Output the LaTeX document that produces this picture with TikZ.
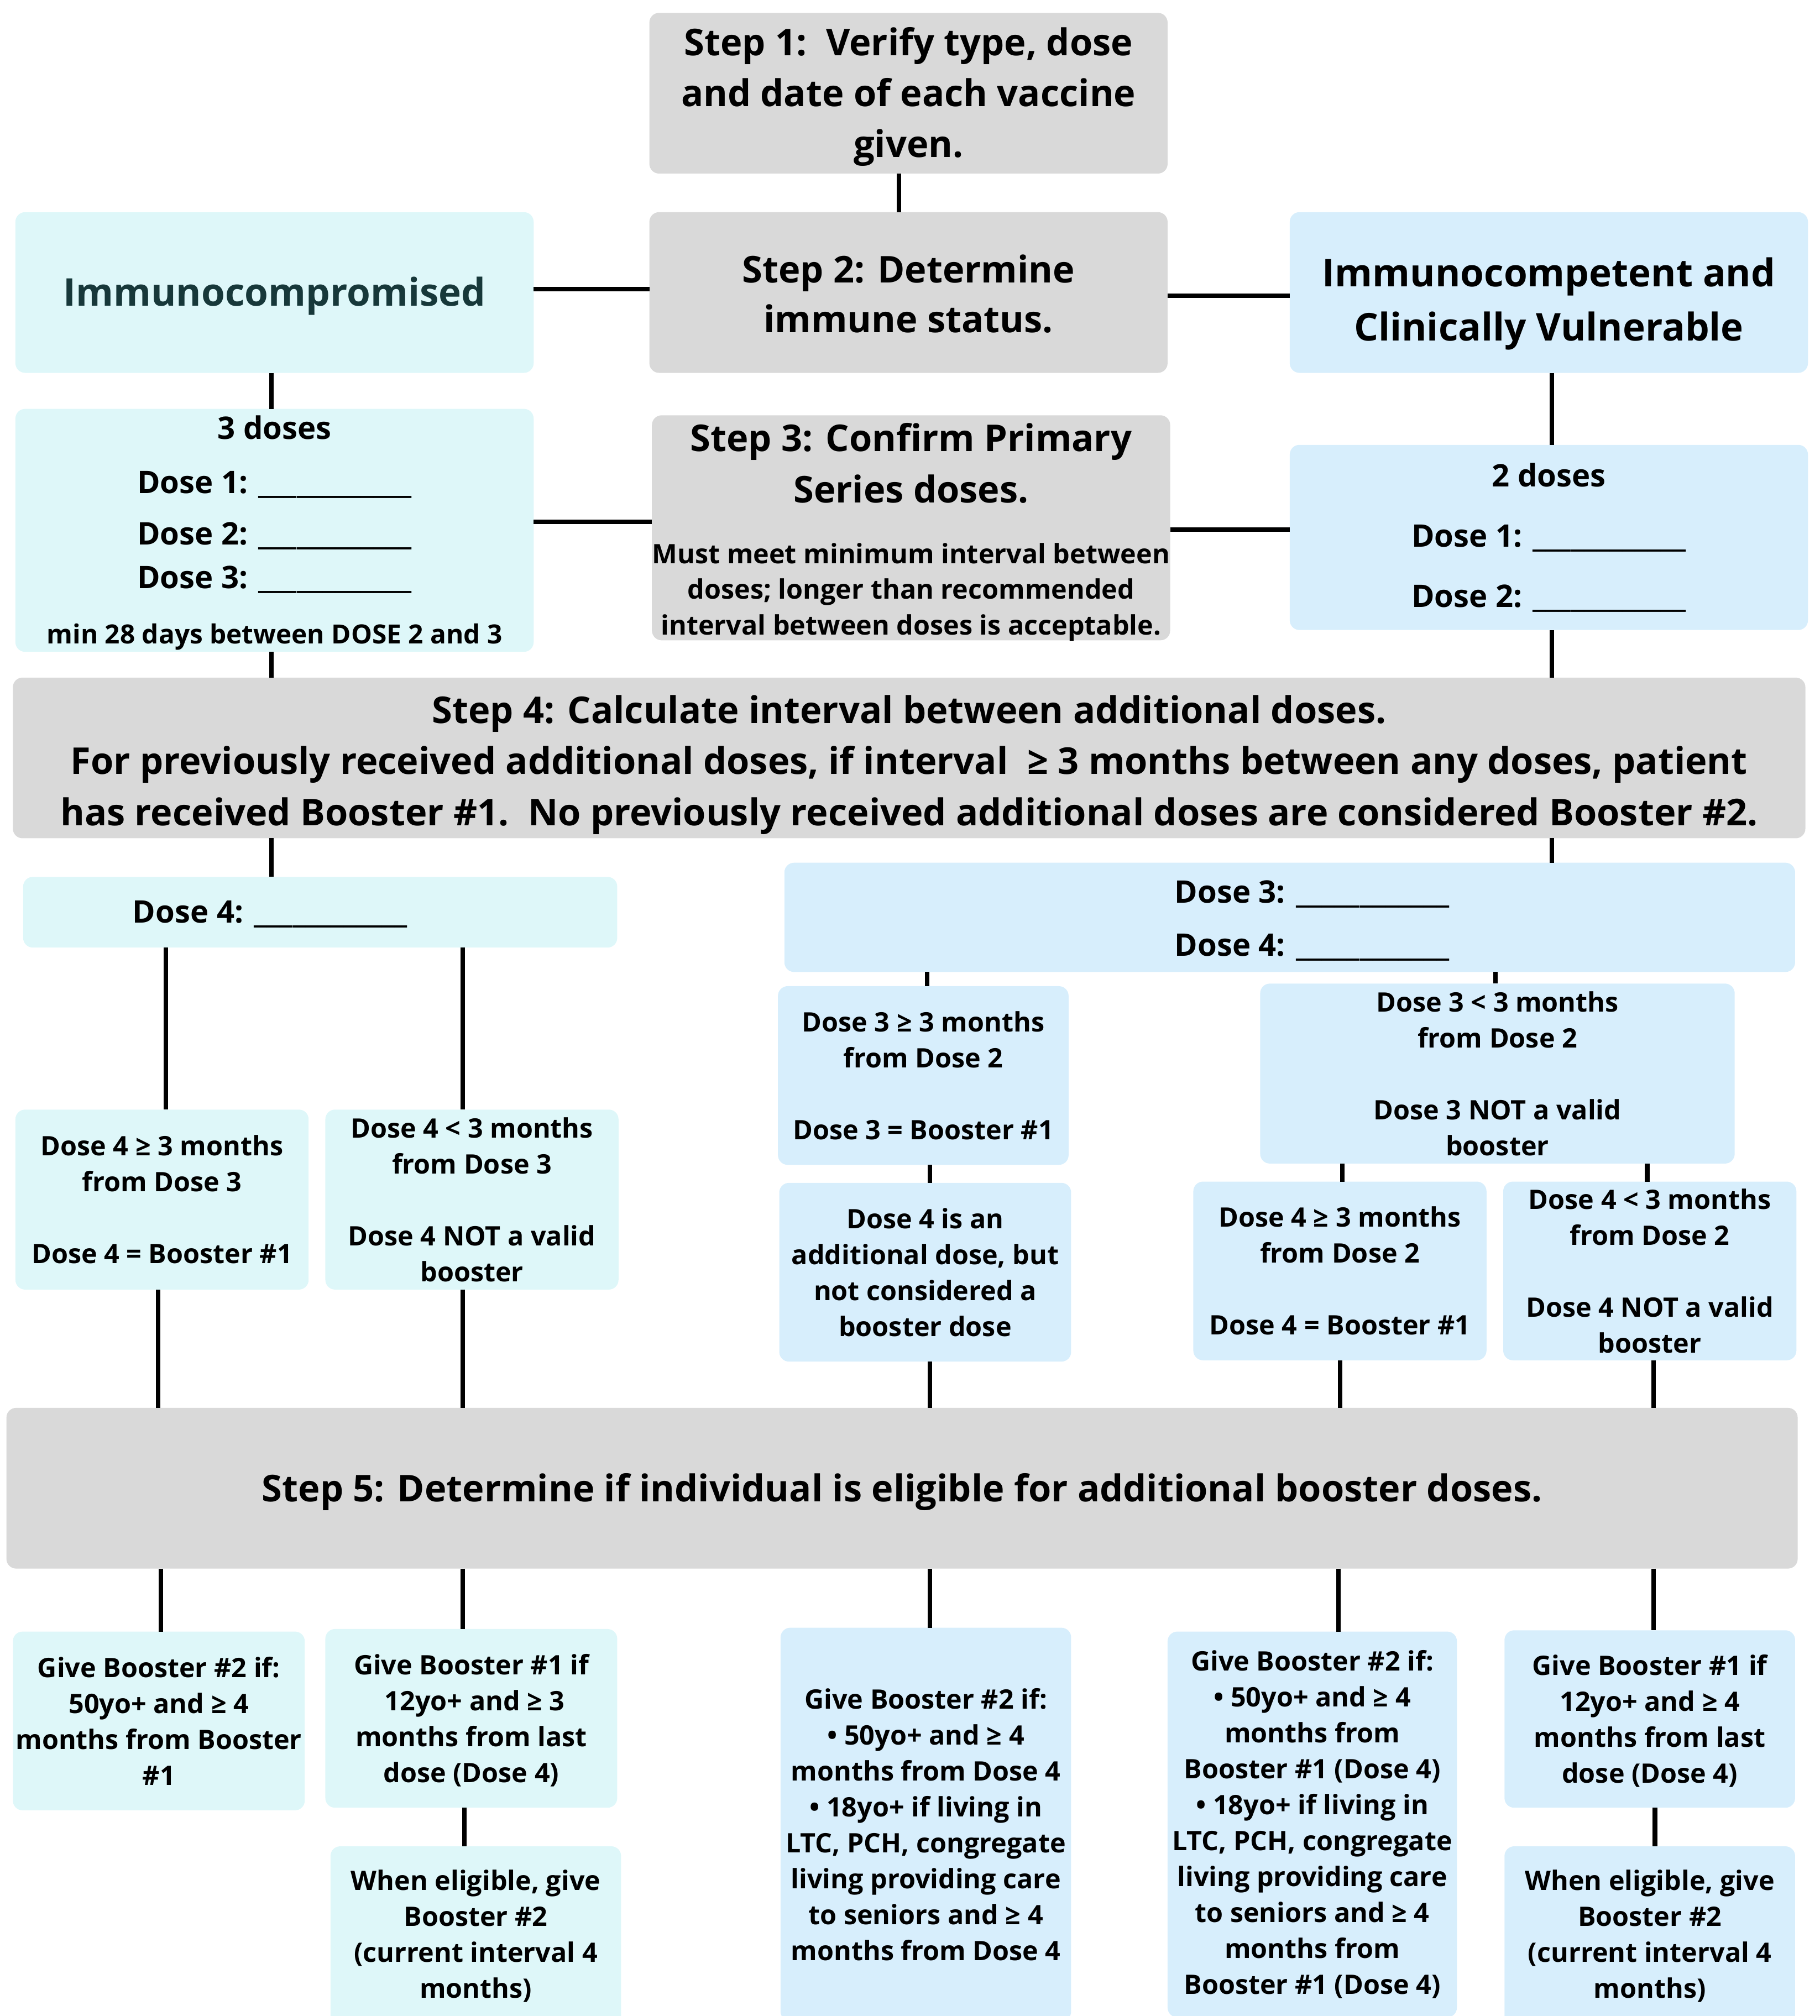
\documentclass[tikz,border=0pt]{standalone}
\usepackage{fontspec}
\setmainfont{Open Sans}
\definecolor{gbox}{HTML}{D9D9D9}
\definecolor{tbox}{HTML}{DEF7F9}
\definecolor{bbox}{HTML}{D7EEFC}
\definecolor{tdark}{HTML}{17383A}
\newcommand\fillblank{\textunderscore\textunderscore\textunderscore\textunderscore\textunderscore\textunderscore\textunderscore\textunderscore\textunderscore\textunderscore\textunderscore\textunderscore}
\tikzset{
  box/.style={rectangle, rounded corners=5pt, inner sep=0pt, outer sep=0pt, align=center, text=black},
  graybox/.style={box, fill=gbox},
  tealbox/.style={box, fill=tbox},
  bluebox/.style={box, fill=bbox},
  titletext/.style={font=\bfseries\fontsize{19}{26.2}\selectfont},
  smalltext/.style={font=\bfseries\fontsize{13.8}{18.5}\selectfont},
  dosetext/.style={font=\bfseries\fontsize{16}{22}\selectfont},
  baseline below/.style={text height=#1, text depth=0pt},
  conn/.style={line width=2.3pt, black},
  place/.style args={#1/#2/#3/#4}{at={({(#1+#3)/2},{(#2+#4)/2})}, minimum width={(#3-#1)*0.023265cm}, minimum height={(#4-#2)*0.023265cm}}
}
\begin{document}
\begin{tikzpicture}[x=0.023265cm, y=-0.023265cm]
\useasboundingbox (0,0) rectangle (1415,1568);

% top steps
\node[graybox, titletext, place=505/10/908/135, baseline below=66.2pt] (s1) {Step 1:\ \ Verify type, dose\\and date of each vaccine\\given.};
\node[graybox, place=505/165/908/290, font=\bfseries\fontsize{19}{25.6}\selectfont, baseline below=41.2pt] (s2) {Step 2: Determine\\immune status.};
\node[tealbox, place=12/165/415/290, font=\bfseries\fontsize{19.7}{27}\selectfont, text=tdark, baseline below=14pt] (ic) {Immunocompromised};
\node[bluebox, place=1003/165/1406/290, font=\bfseries\fontsize{19.7}{28}\selectfont, baseline below=49.8pt] (icv) {Immunocompetent and\\Clinically Vulnerable};

\node[tealbox, dosetext, place=12/318/415/507, baseline below=116.8pt] (d3) {3 doses\\[5.8pt]Dose 1: \fillblank\\[4.5pt]Dose 2: \fillblank\\[0.5pt]Dose 3: \fillblank\\[6.5pt]\fontsize{13.6}{22}\selectfont min 28 days between DOSE 2 and 3};
\node[graybox, place=507/323/910/498, font=\bfseries\fontsize{19}{26.4}\selectfont, baseline below=110pt] (s3) {Step 3: Confirm Primary\\Series doses.\\[5pt]\fontsize{13.8}{18.5}\selectfont Must meet minimum interval between\\[-8.1pt]\fontsize{13.8}{18.5}\selectfont doses; longer than recommended\\[-8.1pt]\fontsize{13.8}{18.5}\selectfont interval between doses is acceptable.};
\node[bluebox, place=1003/346/1406/490, font=\bfseries\fontsize{16}{31}\selectfont] (d2) {2 doses\\Dose 1: \fillblank\\Dose 2: \fillblank};

\node[graybox, titletext, place=10/527/1404/652, baseline below=69.4pt] (s4) {Step 4: Calculate interval between additional doses.\\For previously received additional doses, if interval\ \ ≥ 3 months between any doses, patient\\has received Booster \#1.\ \ No previously received additional doses are considered Booster \#2.};

\node[tealbox, dosetext, place=18/682/480/737, baseline below=11pt] (d4l) {Dose 4: \fillblank\hspace*{51.6pt}};
\node[bluebox, place=610/671/1396/756, font=\bfseries\fontsize{16}{27.5}\selectfont, baseline below=39.9pt] (d34) {\hspace*{23pt}Dose 3: \fillblank\\\hspace*{23pt}Dose 4: \fillblank};

\node[tealbox, smalltext, place=12/863/240/1003] (lge) {Dose 4 ≥ 3 months\\from Dose 3\\[18.5pt]Dose 4 = Booster \#1};
\node[tealbox, smalltext, place=253/863/481/1003, text depth=-2.6pt] (llt) {Dose 4 < 3 months\\from Dose 3\\[18.5pt]Dose 4 NOT a valid\\booster};
\node[bluebox, smalltext, place=605/767/831/906] (r3ge) {Dose 3 ≥ 3 months\\from Dose 2\\[18.5pt]Dose 3 = Booster \#1};
\node[bluebox, smalltext, place=980/765/1349/905] (r3lt) {Dose 3 < 3 months\\from Dose 2\\[18.5pt]Dose 3 NOT a valid\\booster};
\node[bluebox, smalltext, place=606/920/833/1059] (r4add) {Dose 4 is an\\additional dose, but\\not considered a\\booster dose};
\node[bluebox, smalltext, place=928/919/1156/1058] (r4ge) {Dose 4 ≥ 3 months\\from Dose 2\\[18.5pt]Dose 4 = Booster \#1};
\node[bluebox, smalltext, place=1169/919/1397/1058] (r4lt) {Dose 4 < 3 months\\from Dose 2\\[18.5pt]Dose 4 NOT a valid\\booster};

\node[graybox, titletext, place=5/1095/1398/1220, text depth=0.6pt] (s5) {Step 5: Determine if individual is eligible for additional booster doses.};

\node[tealbox, smalltext, place=10/1269/237/1408] (b1) {Give Booster \#2 if:\\50yo+ and ≥ 4\\months from Booster\\\#1};
\node[tealbox, smalltext, place=253/1267/480/1406, text depth=-0.7pt] (b2) {Give Booster \#1 if\\\ 12yo+ and ≥ 3\\months from last\\dose (Dose 4)};
\node[tealbox, smalltext, place=257/1436/483/1576] (b2b) {When eligible, give\\Booster \#2\\(current interval 4\\months)};
\node[bluebox, smalltext, place=607/1266/833/1572] (b3) {Give Booster \#2 if:\\• 50yo+ and ≥ 4\\months from Dose 4\\• 18yo+ if living in\\LTC, PCH, congregate\\living providing care\\to seniors and ≥ 4\\months from Dose 4};
\node[bluebox, smalltext, place=908/1269/1133/1569] (b4) {Give Booster \#2 if:\\• 50yo+ and ≥ 4\\months from\\Booster \#1 (Dose 4)\\• 18yo+ if living in\\LTC, PCH, congregate\\living providing care\\to seniors and ≥ 4\\months from\\Booster \#1 (Dose 4)};
\node[bluebox, smalltext, place=1170/1268/1396/1406, text depth=-0.7pt] (b5) {Give Booster \#1 if\\12yo+ and ≥ 4\\months from last\\dose (Dose 4)};
\node[bluebox, smalltext, place=1170/1436/1396/1576] (b5b) {When eligible, give\\Booster \#2\\(current interval 4\\months)};

% connectors
\draw[conn] (s1.south -| 699,0) -- (s2.north -| 699,0);
\draw[conn] (ic.east |- 0,225) -- (s2.west |- 0,225);
\draw[conn] (s2.east |- 0,230) -- (icv.west |- 0,230);
\draw[conn] (ic.south -| 211,0) -- (d3.north -| 211,0);
\draw[conn] (d3.east |- 0,406) -- (s3.west |- 0,406);
\draw[conn] (s3.east |- 0,412) -- (d2.west |- 0,412);
\draw[conn] (icv.south -| 1207,0) -- (d2.north -| 1207,0);
\draw[conn] (d3.south -| 211,0) -- (s4.north -| 211,0);
\draw[conn] (d2.south -| 1207,0) -- (s4.north -| 1207,0);
\draw[conn] (s4.south -| 211,0) -- (d4l.north -| 211,0);
\draw[conn] (s4.south -| 1207,0) -- (d34.north -| 1207,0);
\draw[conn] (d4l.south -| 129,0) -- (lge.north -| 129,0);
\draw[conn] (d4l.south -| 360,0) -- (llt.north -| 360,0);
\draw[conn] (d34.south -| 721,0) -- (r3ge.north -| 721,0);
\draw[conn] (d34.south -| 1163,0) -- (r3lt.north -| 1163,0);
\draw[conn] (r3ge.south -| 723,0) -- (r4add.north -| 723,0);
\draw[conn] (r3lt.south -| 1044,0) -- (r4ge.north -| 1044,0);
\draw[conn] (r3lt.south -| 1281,0) -- (r4lt.north -| 1281,0);
\draw[conn] (lge.south -| 123,0) -- (s5.north -| 123,0);
\draw[conn] (llt.south -| 360,0) -- (s5.north -| 360,0);
\draw[conn] (r4add.south -| 723,0) -- (s5.north -| 723,0);
\draw[conn] (r4ge.south -| 1042,0) -- (s5.north -| 1042,0);
\draw[conn] (r4lt.south -| 1286,0) -- (s5.north -| 1286,0);
\draw[conn] (s5.south -| 125,0) -- (b1.north -| 125,0);
\draw[conn] (s5.south -| 360,0) -- (b2.north -| 360,0);
\draw[conn] (s5.south -| 723,0) -- (b3.north -| 723,0);
\draw[conn] (s5.south -| 1041,0) -- (b4.north -| 1041,0);
\draw[conn] (s5.south -| 1286,0) -- (b5.north -| 1286,0);
\draw[conn] (b2.south -| 361,0) -- (b2b.north -| 361,0);
\draw[conn] (b5.south -| 1287,0) -- (b5b.north -| 1287,0);
\end{tikzpicture}
\end{document}
